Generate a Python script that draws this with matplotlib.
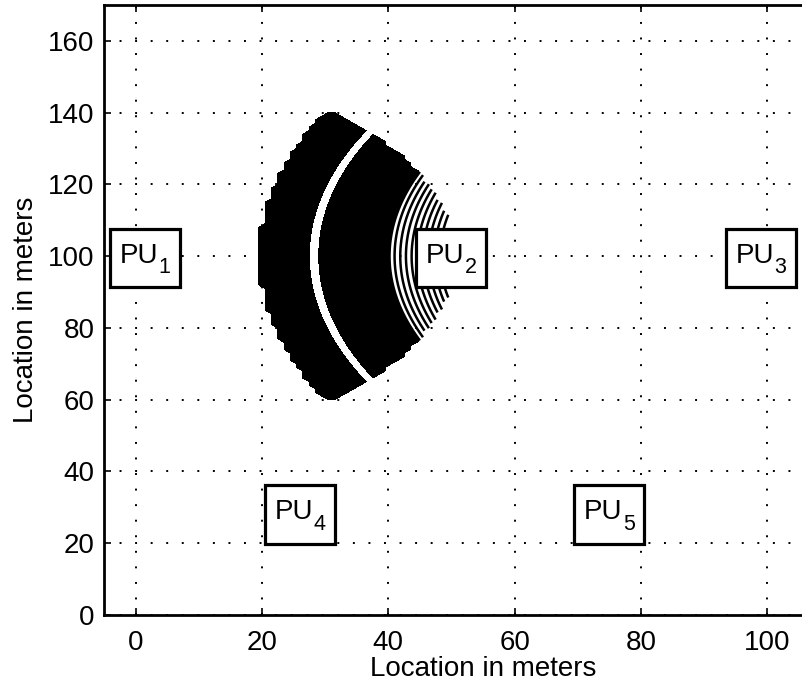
import numpy as np
import matplotlib.pyplot as plt
from matplotlib.patches import Rectangle

plt.rcParams['font.family'] = ['Liberation Sans', 'DejaVu Sans']

# primary users
pu_names = ['PU', 'PU', 'PU', 'PU', 'PU']
pu_index = ['1', '2', '3', '4', '5']
pu_x = [0, 50, 100, 25, 75]
pu_y = [100, 100, 100, 25, 25]
label_x = [1.5, 50, 99, 26, 75]
label_y = [99.5, 99.5, 99.5, 28, 28]

# region covered: within r_pu1 of PU1 and r_pu3 of PU3
r_pu1 = 51
r_pu3 = 81

# contour bands of distance to PU3 (m)
dense_bands = [(60.0, 71.0), (72.5, 82.0)]
ring_levels = [51.8, 52.7, 53.6, 54.5, 55.4, 56.3, 57.2, 58.1, 59.0, 59.8]

gx, gy = np.meshgrid(np.arange(-5.5, 116, 1.0), np.arange(0, 171, 1.0))
d1 = np.hypot(gx - pu_x[0], gy - pu_y[0])
d3 = np.hypot(gx - pu_x[2], gy - pu_y[2])
field = np.ma.masked_where((d1 > r_pu1) | (d3 > r_pu3), d3)

fig = plt.figure(figsize=(8.02, 6.88), dpi=100)
ax = fig.add_axes([104/802, 73/688, 758/802, 610/688])

for lo, hi in dense_bands:
    ax.contourf(gx, gy, field, levels=[lo, hi], colors='k', zorder=2)
ax.contour(gx, gy, field, levels=ring_levels, colors='k', linewidths=1.8, zorder=2)

# label boxes, size in data units
box_w, box_h = 11.1, 16.4
for name, idx, x, y in zip(pu_names, pu_index, label_x, label_y):
    ax.add_patch(Rectangle((x - box_w/2, y - box_h/2), box_w, box_h, fc='white',
                           ec='k', lw=2.3, zorder=4))
    ax.annotate(name, (x, y), xytext=(-4.5, -3.5), textcoords='offset points',
                fontsize=20, ha='center', va='baseline', zorder=5)
    ax.annotate(idx, (x, y), xytext=(14, -11), textcoords='offset points',
                fontsize=15.5, ha='center', va='baseline', zorder=5)

ax.set_xlim(-5, 115)
ax.set_ylim(0, 170)
ax.set_xticks(np.arange(0, 101, 20))
ax.set_yticks(np.arange(0, 161, 20))
ax.tick_params(direction='in', top=True, right=True, length=5, width=1.2,
               labelsize=20)
ax.tick_params(axis='x', pad=11)
ax.tick_params(axis='y', pad=7)
ax.grid(True, color='k', linestyle=(0, (1, 7)), linewidth=1.4)
ax.set_axisbelow(True)
for s in ax.spines.values():
    s.set_linewidth(2)
ax.set_xlabel('Location in meters', fontsize=20, labelpad=0)
ax.set_ylabel('Location in meters', fontsize=20, labelpad=6)

plt.savefig('out.png', dpi=100)
